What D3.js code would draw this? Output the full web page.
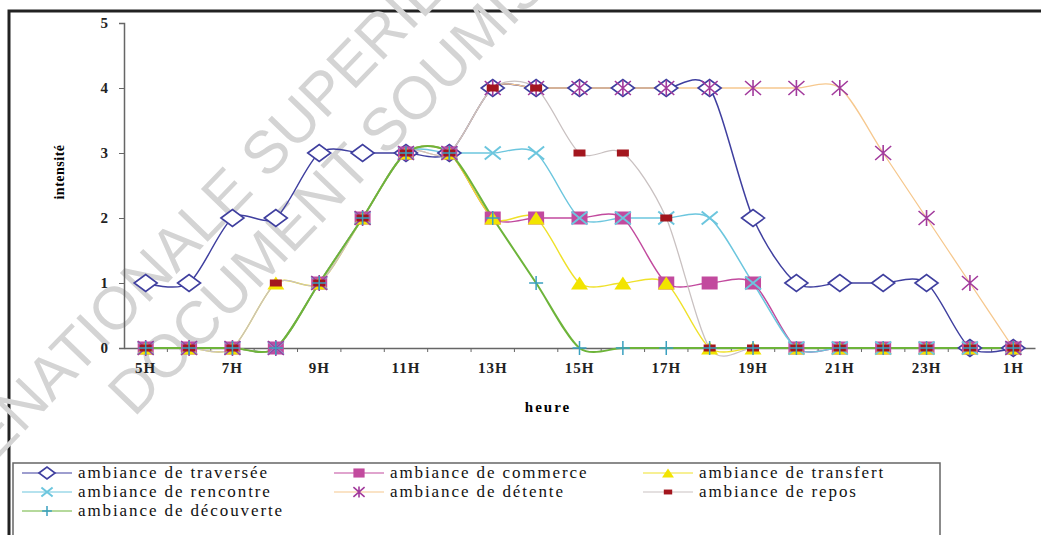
<!DOCTYPE html>
<html>
<head>
<meta charset="utf-8">
<script src="https://cdn.jsdelivr.net/npm/d3@7"></script>
<style>
  body { margin: 0; background: #fff; }
  svg { display: block; }
</style>
</head>
<body>
<div id="chart"></div>
<script>
// categories (hours) and the labels that are shown
var hours = ["5H","6H","7H","8H","9H","10H","11H","12H","13H","14H","15H","16H","17H","18H","19H","20H","21H","22H","23H","24H","1H"];
var tickLabels = ["5H","7H","9H","11H","13H","15H","17H","19H","21H","23H","1H"];
var yTicks = [0, 1, 2, 3, 4, 5];

// series values, one per hour
var traversee  = [1,1,2,2,3,3,3,3,4,4,4,4,4,4,2,1,1,1,1,0,0];
var commerce   = [0,0,0,0,1,2,3,3,2,2,2,2,1,1,1,0,0,0,0,0,0];
var transfert  = [0,0,0,1,1,2,3,3,2,2,1,1,1,0,0,0,0,0,0,0,0];
var rencontre  = [0,0,0,0,1,2,3,3,3,3,2,2,2,2,1,0,0,0,0,0,0];
var detente    = [0,0,0,0,1,2,3,3,4,4,4,4,4,4,4,4,4,3,2,1,0];
var repos      = [0,0,0,1,1,2,3,3,4,4,3,3,2,0,0,0,0,0,0,0,0];
var decouverte = [0,0,0,0,1,2,3,3,2,1,0,0,0,0,0,0,0,0,0,0,0];

var seriesNames = ["ambiance de traversée","ambiance de commerce","ambiance de transfert",
  "ambiance de rencontre","ambiance de détente","ambiance de repos","ambiance de découverte"];

var series = [
  {name: seriesNames[0], values: traversee,  line: "#3f3f9f", lw: 1.5, marker: "diamond"},
  {name: seriesNames[1], values: commerce,   line: "#c24a9e", lw: 1.5, marker: "square"},
  {name: seriesNames[2], values: transfert,  line: "#efe12a", lw: 1.5, marker: "triangle"},
  {name: seriesNames[3], values: rencontre,  line: "#6cc6de", lw: 1.5, marker: "x"},
  {name: seriesNames[4], values: detente,    line: "#f6c88e", lw: 1.3, marker: "star"},
  {name: seriesNames[5], values: repos,      line: "#c9c1c1", lw: 1.3, marker: "rect"},
  {name: seriesNames[6], values: decouverte, line: "#6db43a", lw: 2,   marker: "plus"}
];

var W = 1041, H = 535;
var serif = "'Liberation Serif', 'Times New Roman', serif";
var svg = d3.select("#chart").append("svg").attr("width", W).attr("height", H);

// outer frame
svg.append("rect").attr("x", 9).attr("y", 11).attr("width", W + 20).attr("height", H + 20)
  .attr("fill", "#fff").attr("stroke", "#222").attr("stroke-width", 3);

// watermark, light grey letters under the plot
var wm = svg.append("g").attr("fill", "#d4d4d4")
  .style("font-family", "'Liberation Sans', Arial, sans-serif").style("font-size", "60px");
wm.append("text").attr("transform", "translate(22,434) rotate(-46)").attr("text-anchor", "end").text("ECOLE ");
wm.append("text").attr("transform", "translate(22,434) rotate(-46)").text("NATIONALE SUPERIEURE");
wm.append("text").attr("transform", "translate(134,418) rotate(-46)").text("DOCUMENT SOUMIS");

var x = d3.scaleBand().domain(hours).range([124, 1035]);
var y = d3.scaleLinear().domain([0, 5]).range([348, 23]);
var cx = function(i) { return x(hours[i]) + x.bandwidth() / 2; };

// axes
var xAxis = svg.append("g").attr("transform", "translate(0,348)")
  .call(d3.axisBottom(x).tickSize(0).tickFormat(function(d) { return tickLabels.indexOf(d) >= 0 ? d : ""; }));
xAxis.select(".domain").attr("stroke", "#666").attr("stroke-width", 1.5);
xAxis.selectAll("text").attr("dy", 0).attr("y", 25)
  .style("font-family", serif).style("font-weight", "bold").style("font-size", "15px")
  .style("letter-spacing", "1px").attr("fill", "#222");
// boundary ticks between categories
xAxis.selectAll(".bt").data(hours.slice(1)).enter().append("line")
  .attr("x1", function(d) { return x(d); }).attr("x2", function(d) { return x(d); })
  .attr("y1", 0).attr("y2", 4).attr("stroke", "#666");

var yAxis = svg.append("g").attr("transform", "translate(124,0)")
  .call(d3.axisLeft(y).tickValues(yTicks).tickSize(5).tickPadding(11).tickFormat(d3.format("d")));
yAxis.select(".domain").attr("stroke", "#666").attr("stroke-width", 1.5);
yAxis.selectAll("line").attr("stroke", "#666");
yAxis.selectAll("text").style("font-family", serif).style("font-weight", "bold").style("font-size", "15px").attr("fill", "#222");

svg.append("text").attr("x", 548).attr("y", 412).attr("text-anchor", "middle")
  .style("font-family", serif).style("font-weight", "bold").style("font-size", "15px")
  .style("letter-spacing", "2px").text("heure");
svg.append("text").attr("transform", "translate(64,172) rotate(-90)").attr("text-anchor", "middle")
  .style("font-family", serif).style("font-weight", "bold").style("font-size", "14px")
  .style("letter-spacing", "0.5px").text("intensité");

// markers
function drawMarker(g, type, px, py, s) {
  s = s || 1;
  if (type === "diamond") {
    g.append("path").attr("d", "M" + (px - 11.5 * s) + "," + py + "L" + px + "," + (py - 8.5 * s) + "L" + (px + 11.5 * s) + "," + py + "L" + px + "," + (py + 8.5 * s) + "Z")
      .attr("fill", "#fff").attr("stroke", "#3f3f9f").attr("stroke-width", 1.6);
  } else if (type === "square") {
    g.append("rect").attr("x", px - 8 * s).attr("y", py - 6.5 * s).attr("width", 16 * s).attr("height", 13 * s).attr("fill", "#c24a9e");
  } else if (type === "triangle") {
    g.append("path").attr("d", "M" + (px - 8.5 * s) + "," + (py + 6.5 * s) + "L" + px + "," + (py - 6.5 * s) + "L" + (px + 8.5 * s) + "," + (py + 6.5 * s) + "Z")
      .attr("fill", "#f2e400");
  } else if (type === "x") {
    g.append("path").attr("d", "M" + (px - 8 * s) + "," + (py - 6.5 * s) + "L" + (px + 8 * s) + "," + (py + 6.5 * s) + "M" + (px - 8 * s) + "," + (py + 6.5 * s) + "L" + (px + 8 * s) + "," + (py - 6.5 * s))
      .attr("stroke", "#6cc6de").attr("stroke-width", 2);
  } else if (type === "star") {
    g.append("path").attr("d", "M" + (px - 8 * s) + "," + (py - 7 * s) + "L" + (px + 8 * s) + "," + (py + 7 * s) + "M" + (px - 8 * s) + "," + (py + 7 * s) + "L" + (px + 8 * s) + "," + (py - 7 * s) + "M" + px + "," + (py - 8 * s) + "L" + px + "," + (py + 8 * s))
      .attr("stroke", "#a23a9c").attr("stroke-width", 1.6);
  } else if (type === "rect") {
    g.append("rect").attr("x", px - 6 * s).attr("y", py - 3.5 * s).attr("width", 12 * s).attr("height", 7 * s).attr("fill", "#a3161e");
  } else if (type === "plus") {
    g.append("path").attr("d", "M" + (px - 7 * s) + "," + py + "L" + (px + 7 * s) + "," + py + "M" + px + "," + (py - 7 * s) + "L" + px + "," + (py + 7 * s))
      .attr("stroke", "#3aa0c0").attr("stroke-width", 1.5);
  }
}

var line = d3.line()
  .x(function(d, i) { return cx(i); })
  .y(function(d) { return y(d); })
  .curve(d3.curveCardinal.tension(0.15));

var plot = svg.append("g");
series.forEach(function(s) {
  plot.append("path").datum(s.values).attr("d", line)
    .attr("fill", "none").attr("stroke", s.line).attr("stroke-width", s.lw);
});
series.forEach(function(s) {
  var g = plot.append("g");
  s.values.forEach(function(v, i) { drawMarker(g, s.marker, cx(i), y(v)); });
});

// legend
var lg = svg.append("g");
lg.append("rect").attr("x", 13).attr("y", 463).attr("width", 927).attr("height", 100)
  .attr("fill", "#fff").attr("stroke", "#666").attr("stroke-width", 1.5);
var colX = [22, 334, 643], rowY = [473, 492, 511];
series.forEach(function(s, i) {
  var lx = colX[i % 3], ly = rowY[Math.floor(i / 3)];
  lg.append("line").attr("x1", lx).attr("x2", lx + 50).attr("y1", ly).attr("y2", ly)
    .attr("stroke", s.line).attr("stroke-width", 1.2);
  drawMarker(lg, s.marker, lx + 25, ly, 0.7);
  lg.append("text").attr("x", lx + 56).attr("y", ly + 5)
    .style("font-family", serif).style("font-size", "17px").style("letter-spacing", "1.9px")
    .attr("fill", "#111").text(s.name);
});
</script>
</body>
</html>
